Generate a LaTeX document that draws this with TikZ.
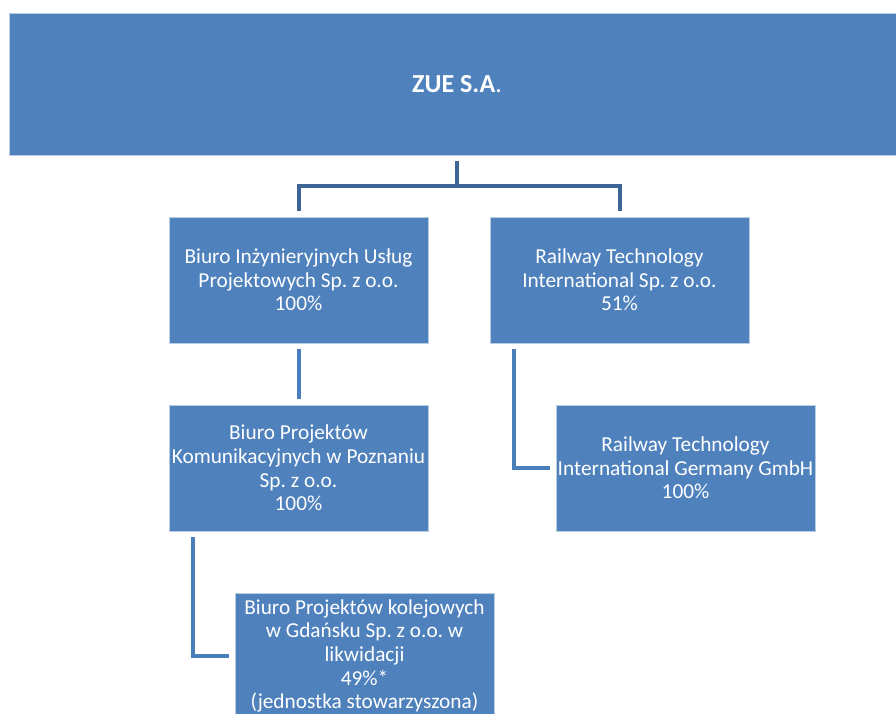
\documentclass[tikz,border=0pt]{standalone}
\usepackage{fontspec}
\setmainfont{Carlito}
\frenchspacing
\usetikzlibrary{calc}
\definecolor{boxblue}{HTML}{4F81BD}
\definecolor{boxedge}{HTML}{B9CDE5}
\definecolor{linkdark}{HTML}{3C6494}
\definecolor{linkblue}{HTML}{4A7EBB}

\begin{document}
\begin{tikzpicture}
\tikzstyle{unit}=[rectangle, fill=boxblue, draw=boxedge, line width=0.6pt, text=white, align=center, font=\fontsize{21.3}{23.6}\selectfont, minimum width=259pt, minimum height=126pt, inner sep=0pt, node distance=188pt]
\tikzstyle{head}=[unit, minimum width=896pt, minimum height=142pt, font=\fontsize{26}{30}\selectfont]
\tikzstyle{connect}=[line width=4pt, draw=linkblue, shorten <=6pt, shorten >=6pt]
\tikzstyle{connectdark}=[connect, draw=linkdark]

  \useasboundingbox (0,0) rectangle (896pt,-713pt);
  \clip (0,0) rectangle (896pt,-713pt);

  \node[unit] (biup) at (298.5pt,-280pt) {Biuro Inżynieryjnych Usług\\Projektowych Sp. z o.o.\\100\%};
  \node[unit] (rti)  [node distance=321pt, right of =biup] {Railway Technology\\International Sp. z o.o.\\51\%};
  \node[head] (zue)  [node distance=196pt, above of =biup, xshift=158.5pt] {\raisebox{-3pt}{\textbf{ZUE S.A}.}};

  \node[unit] (bpkp) [below of =biup]              {Biuro Projektów\\Komunikacyjnych w Poznaniu\\Sp. z o.o.\\100\%};
  \node[unit] (bpkg) [below of =bpkp, xshift=66pt] {Biuro Projektów kolejowych\\w Gdańsku Sp. z o.o. w\\likwidacji\\49\%*\\(jednostka stowarzyszona)};
  \node[unit] (rtig) [below of =rti,  xshift=66pt] {Railway Technology\\International Germany GmbH\\100\%};

  \draw[connectdark] (zue.south) -- ++(0,-30.5pt) -| (biup.north);
  \draw[connectdark] (zue.south) -- ++(0,-30.5pt) -| (rti.north);
  \draw[connect] (biup.south) -- (bpkp.north);
  \draw[connect] ([xshift=-106pt]bpkp.south) |- (bpkg.west);
  \draw[connect] ([xshift=-106pt]rti.south) |- (rtig.west);

\end{tikzpicture}
\end{document}
